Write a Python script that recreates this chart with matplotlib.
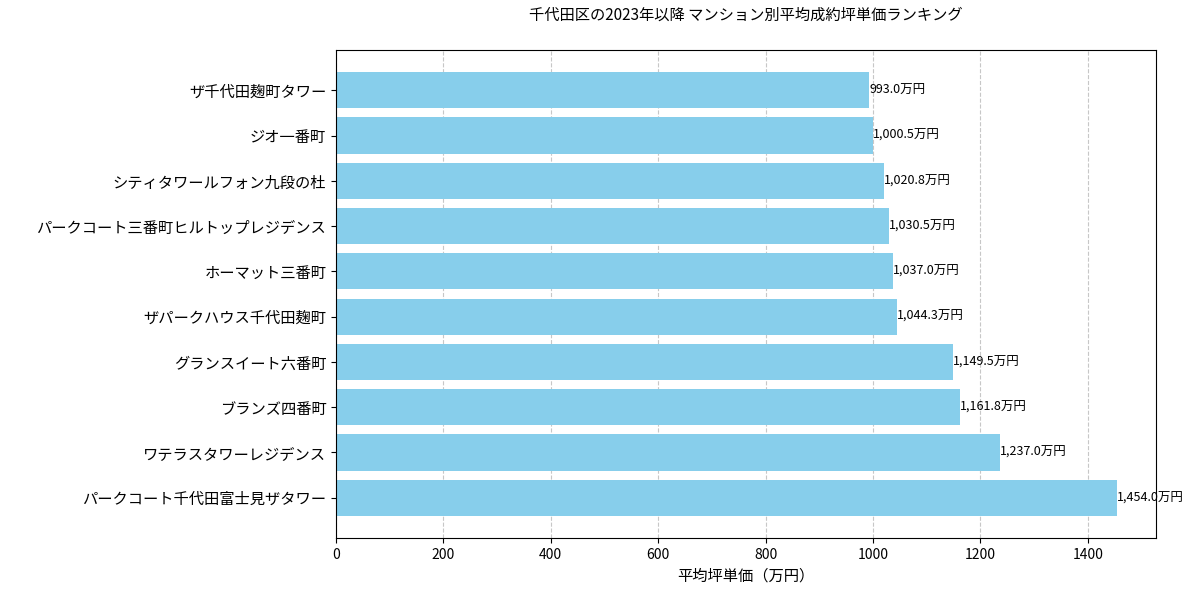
import matplotlib
matplotlib.use("Agg")
import matplotlib.pyplot as plt

plt.rcParams['font.family'] = ['Noto Sans CJK JP', 'DejaVu Sans']

names = ["ザ千代田麹町タワー", "ジオ一番町", "シティタワールフォン九段の杜",
         "パークコート三番町ヒルトップレジデンス", "ホーマット三番町", "ザパークハウス千代田麹町",
         "グランスイート六番町", "ブランズ四番町", "ワテラスタワーレジデンス",
         "パークコート千代田富士見ザタワー"]
values = [993.0, 1000.5, 1020.8, 1030.5, 1037.0, 1044.3, 1149.5, 1161.8, 1237.0, 1454.0]

fig = plt.figure(figsize=(11.98, 5.93), dpi=100)
ax = fig.add_axes([336/1198, 1-538/593, (1156-336)/1198, (538-50)/593])
ax.barh(names, values, color='skyblue', height=0.8)
ax.invert_yaxis()
for n, v in zip(names, values):
    ax.text(v, n, f"{v:,.1f}万円", va='center', ha='left', fontsize=9)
ax.set_xlim(0, 1527)
ax.set_xlabel("平均坪単価（万円）", fontsize=11)
ax.set_title("千代田区の2023年以降 マンション別平均成約坪単価ランキング", fontsize=11, pad=22)
ax.tick_params(axis='y', labelsize=11)
ax.grid(axis='x', linestyle='--', alpha=0.7)
ax.set_axisbelow(True)
fig.savefig("out.png", dpi=100)
